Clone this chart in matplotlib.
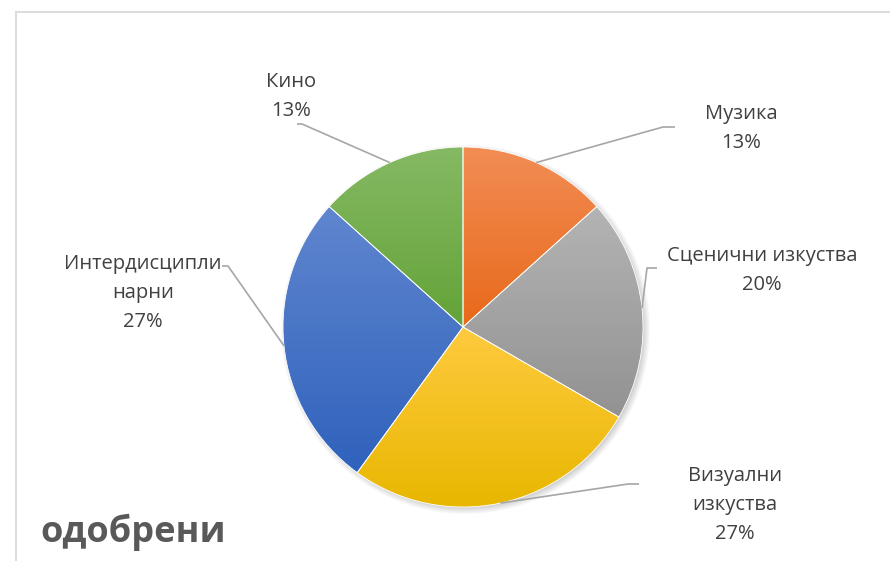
import numpy as np
import matplotlib
matplotlib.use("Agg")
import matplotlib.pyplot as plt
from matplotlib.colors import to_rgb
from matplotlib.patches import Rectangle

# ---- data ----
categories = ["Музика", "Сценични изкуства", "Визуални изкуства", "Интердисциплинарни", "Кино"]
label_texts = ["Музика", "Сценични изкуства", "Визуални\nизкуства", "Интердисципли\nнарни", "Кино"]
values = [2, 3, 4, 4, 2]
title = "одобрени"

# gradient colours (top, bottom)
top_colors = ["#F28D55", "#B4B4B4", "#FFCA3F", "#6086CF", "#85B964"]
bot_colors = ["#E8691A", "#929292", "#E8B700", "#2F62BC", "#63A337"]

W, H = 890, 561
fig = plt.figure(figsize=(W / 100, H / 100), dpi=100)
ax = fig.add_axes([0, 0, 1, 1])
ax.set_xlim(0, W)
ax.set_ylim(0, H)
ax.axis("off")

def Y(y):
    return H - y

FONT = ["Open Sans", "DejaVu Sans"]
cx, cy, R = 463, Y(327), 180

# chart area border
ax.add_patch(Rectangle((15.5, -10), W, Y(11.5) + 10, fill=False, ec="#D9D9D9", lw=1.3, zorder=0))

# soft shadow
yy, xx = np.mgrid[0:H, 0:W]
d = np.hypot(xx - (cx + 2), yy - (cy - 3))
alpha = np.clip((R + 5 - d) / 8.0, 0, 1) * 0.30
shadow = np.zeros((H, W, 4))
shadow[..., :3] = 0.35
shadow[..., 3] = alpha
ax.imshow(shadow, extent=[0, W, 0, H], origin="lower", zorder=1, interpolation="bilinear", aspect="auto")

wedges, _ = ax.pie(values, startangle=90, counterclock=False, center=(cx, cy), radius=R,
                   wedgeprops=dict(edgecolor="white", linewidth=0.6, facecolor="none"),
                   frame=True)
for w, c1, c2 in zip(wedges, top_colors, bot_colors):
    w.set_zorder(3)
    ext = w.get_path().get_extents()
    n = 256
    t = np.linspace(0, 1, n)[:, None]
    a, b = np.array(to_rgb(c1)), np.array(to_rgb(c2))
    grad = (a[None, :] * (1 - t) + b[None, :] * t)[:, None, :]
    im = ax.imshow(grad, extent=[ext.x0, ext.x1, ext.y0, ext.y1], origin="upper",
                   aspect="auto", interpolation="bilinear", zorder=2)
    im.set_clip_path(w)

# labels with leader lines
total = sum(values)
label_pos = [(741, 128), (762, 270), (735, 505), (143, 293), (291, 96)]
elbows = [[(663, 127), (675, 127)],
          [(647, 268), (657, 268)],
          [(628, 484), (639, 484)],
          [(228, 266), (222, 266)],
          [(302, 124), (297, 124)]]
for w, v, txt, (lx, ly), el in zip(wedges, values, label_texts, label_pos, elbows):
    mid = np.deg2rad((w.theta1 + w.theta2) / 2)
    ex, ey = cx + R * np.cos(mid), cy + R * np.sin(mid)
    xs = [ex] + [p[0] for p in el]
    ys = [ey] + [Y(p[1]) for p in el]
    ax.plot(xs, ys, color="#A6A6A6", lw=1.2, zorder=4, solid_capstyle="butt")
    pct = f"{round(100 * v / total)}%"
    ax.text(lx, Y(ly), f"{txt}\n{pct}", ha="center", va="center", fontsize=14.5,
            color="#404040", family=FONT, linespacing=1.6, zorder=5)

ax.text(40, Y(532), title, ha="left", va="center", fontsize=26, fontweight="bold",
        color="#595959", family=FONT)

ax.set_xlim(0, W)
ax.set_ylim(0, H)
ax.set_aspect("auto")
fig.savefig("out.png", dpi=100)
